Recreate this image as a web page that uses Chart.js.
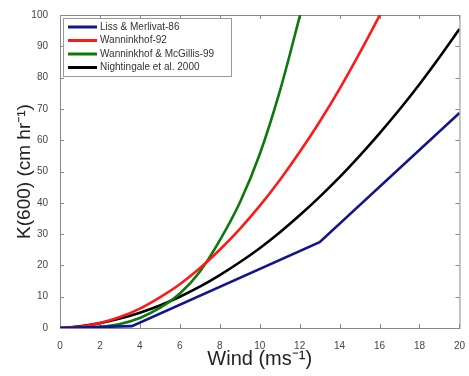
<!DOCTYPE html>
<html>
<head>
<meta charset="utf-8">
<script src="https://cdn.jsdelivr.net/npm/chart.js@4/dist/chart.umd.min.js"></script>
<style>
html,body{margin:0;padding:0;background:#fff;}
#wrap{width:469px;height:376px;}
</style>
</head>
<body>
<div id="wrap"><canvas id="c" width="469" height="376"></canvas></div>
<script>
// Series (wind speed m/s -> k600 cm/hr)
const lissWind = [0, 3.6, 13, 20];
const lissK    = [0, 0.6, 27.4, 68.7];

const wann92Wind = [0,1,2,3,4,5,6,7,8,9,10,11,12,13,14,15,16,16.5];
const wann92K    = [0,0.4,1.6,3.5,6.2,9.8,14.0,19.1,25.0,31.6,39.0,47.2,56.2,65.9,76.4,87.8,99.8,106];

const wm99Wind = [0,1,2,3,4,5,6,7,8,9,10,11,12,12.5];
const wm99K    = [0,0.05,0.4,1.3,3.2,6.4,11.0,18.0,28.0,40.0,55.5,75.5,99.5,112];

const nightWind = [0,1,2,3,4,5,6,7,8,9,10,11,12,13,14,15,16,17,18,19,20];
const nightK    = [0,0.56,1.55,3.0,4.9,7.2,10.0,13.2,16.9,21.0,25.5,30.5,36.0,41.9,48.2,55.0,62.2,69.8,77.9,86.5,95.5];

const seriesNames  = ["Liss & Merlivat-86","Wanninkhof-92","Wanninkhof & McGillis-99","Nightingale et al. 2000"];
const seriesColors = ["#14148c","#ff1a1a","#0a7a0a","#000000"];

const xTicks = [0,2,4,6,8,10,12,14,16,18,20];
const yTicks = [0,10,20,30,40,50,60,70,80,90,100];

function pts(xs, ys){ return xs.map((x,i)=>({x:x,y:ys[i]})); }

const datasets = [
  {label:seriesNames[0], data:pts(lissWind,lissK), tension:0},
  {label:seriesNames[1], data:pts(wann92Wind,wann92K), cubicInterpolationMode:'monotone'},
  {label:seriesNames[2], data:pts(wm99Wind,wm99K), cubicInterpolationMode:'monotone'},
  {label:seriesNames[3], data:pts(nightWind,nightK), cubicInterpolationMode:'monotone'}
].map((d,i)=>Object.assign(d,{borderColor:seriesColors[i],backgroundColor:seriesColors[i],borderWidth:2.6,pointRadius:0,fill:false}));

const frame = {
  id:'frame',
  beforeDatasetsDraw(chart){
    const {ctx, chartArea:a, scales:{x,y}} = chart;
    ctx.save();
    ctx.strokeStyle = '#8a8a8a';
    ctx.lineWidth = 1;
    ctx.strokeRect(a.left+0.5, a.top+0.5, a.right-a.left, a.bottom-a.top);
    const L = 4;
    ctx.beginPath();
    xTicks.forEach(v=>{
      const px = Math.round(x.getPixelForValue(v))+0.5;
      ctx.moveTo(px,a.bottom); ctx.lineTo(px,a.bottom-L);
      ctx.moveTo(px,a.top); ctx.lineTo(px,a.top+L);
    });
    yTicks.forEach(v=>{
      const py = Math.round(y.getPixelForValue(v))+0.5;
      ctx.moveTo(a.left,py); ctx.lineTo(a.left+L,py);
      ctx.moveTo(a.right,py); ctx.lineTo(a.right-L,py);
    });
    ctx.stroke();
    ctx.restore();
  },
  afterDatasetsDraw(chart){
    const ctx = chart.ctx;
    ctx.save();
    const bx=63, by=18, bw=168, bh=58;
    ctx.fillStyle='#fff';
    ctx.fillRect(bx,by,bw,bh);
    ctx.strokeStyle='#999';
    ctx.lineWidth=1;
    ctx.strokeRect(bx+0.5,by+0.5,bw,bh);
    ctx.font='10px Arial, "Liberation Sans", sans-serif';
    ctx.textBaseline='middle';
    const ys=[27,40.5,54,67.5];
    seriesNames.forEach((n,i)=>{
      ctx.strokeStyle=seriesColors[i];
      ctx.lineWidth=3;
      ctx.beginPath(); ctx.moveTo(68,ys[i]); ctx.lineTo(97,ys[i]); ctx.stroke();
      ctx.fillStyle='#333';
      ctx.fillText(n,100,ys[i]);
    });
    ctx.restore();
  }
};

new Chart(document.getElementById('c'), {
  type:'line',
  data:{datasets:datasets},
  options:{
    responsive:false,
    animation:false,
    events:[],
    layout:{padding:{left:0,right:2,top:15,bottom:0}},
    plugins:{legend:{display:false},tooltip:{enabled:false}},
    scales:{
      x:{
        type:'linear', min:0, max:20,
        afterBuildTicks(s){ s.ticks = xTicks.map(v=>({value:v})); },
        afterFit(s){ s.height = 48; },
        grid:{display:false},
        border:{display:false},
        ticks:{color:'#444',font:{family:'Arial, "Liberation Sans", sans-serif',size:10},padding:4,maxRotation:0},
        title:{display:true,text:'Wind (ms\u207B\u00B9)',color:'#222',font:{family:'Arial, "Liberation Sans", sans-serif',size:20},padding:{top:0,bottom:5}}
      },
      y:{
        type:'linear', min:0, max:100,
        afterBuildTicks(s){ s.ticks = yTicks.map(v=>({value:v})); },
        afterFit(s){ s.width = 60; },
        grid:{display:false},
        border:{display:false},
        ticks:{color:'#444',font:{family:'Arial, "Liberation Sans", sans-serif',size:10},padding:4},
        title:{display:true,text:'K(600) (cm hr\u207B\u00B9)',color:'#222',font:{family:'Arial, "Liberation Sans", sans-serif',size:19},padding:{top:13,bottom:0}}
      }
    }
  },
  plugins:[frame]
});
</script>
</body>
</html>
